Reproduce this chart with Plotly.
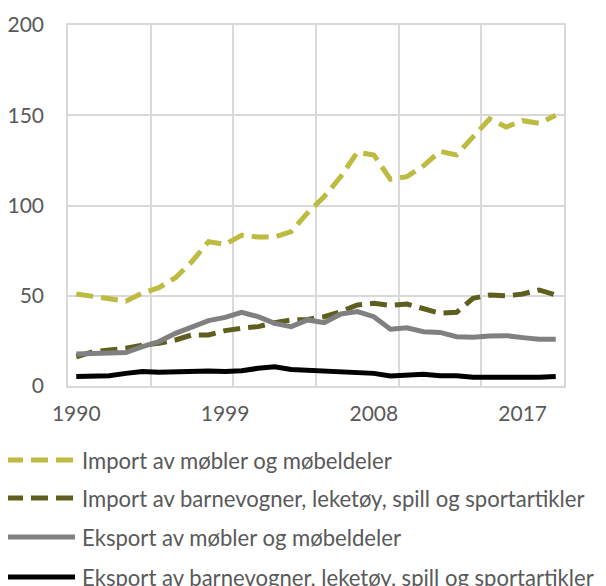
import plotly.graph_objects as go

years = [1990, 1991, 1992, 1993, 1994, 1995, 1996, 1997, 1998, 1999,
         2000, 2001, 2002, 2003, 2004, 2005, 2006, 2007, 2008, 2009,
         2010, 2011, 2012, 2013, 2014, 2015, 2016, 2017, 2018, 2019]

import_mobler = [51, 49.5, 48.5, 47, 51.5, 54.5, 60, 69, 80, 78.5,
                 83.5, 82.5, 82.5, 85.5, 96, 105, 116, 129.5, 128, 114.5,
                 116, 122, 130, 128, 138, 148, 143.5, 147, 145.5, 150]
import_barnevogner = [16.2, 19, 19.9, 20.9, 22.7, 23.6, 25.5, 28.3, 28.3, 30.7,
                      32, 32.9, 35.1, 36.6, 36.9, 38.4, 41.2, 44.9, 45.8, 44.6,
                      45.4, 42.5, 40.3, 40.8, 48.6, 50.4, 49.9, 51, 53.2, 50.4]
eksport_mobler = [17.7, 17.9, 18.3, 18.5, 21.8, 24.6, 29.2, 32.5, 36.2, 38,
                  40.8, 38.4, 34.7, 32.9, 36.6, 35.1, 39.9, 41.2, 38.4, 31.5,
                  32.3, 30.1, 29.7, 27.3, 27, 27.7, 27.9, 26.8, 25.9, 25.9]
eksport_barnevogner = [5.2, 5.5, 5.7, 7, 8, 7.6, 8, 7.8, 8.3, 8.1,
                       8.5, 9.8, 10.7, 9.2, 8.9, 7.9, 7.9, 7.9, 7, 5.5,
                       6.1, 6.5, 5.7, 5.7, 4.8, 4.8, 4.8, 4.2, 4.8, 5.2]

names = ["Import av møbler og møbeldeler",
         "Import av barnevogner, leketøy, spill og sportartikler",
         "Eksport av møbler og møbeldeler",
         "Eksport av barnevogner, leketøy, spill og sportartikler"]
series = [import_mobler, import_barnevogner, eksport_mobler, eksport_barnevogner]
colors = ["#BDBB40", "#5E5E1E", "#808080", "#000000"]
dashes = ["17px,8px", "17px,8px", "solid", "solid"]

x_ticks = [1990, 1999, 2008, 2017]

# the page body adds an 8px margin, so everything is placed 8px up/left
OFF = 8
W, H = 606, 586
L, T = 68 - OFF, 25 - OFF
R = W - (564 - OFF)
B = H - (386 - OFF)
FONT = "Lato"
TXT = "#595959"


def paper_x(px):
    return (px - OFF - L) / (W - L - R)


def paper_y(py):
    return (H - B - (py - OFF)) / (H - T - B)


fig = go.Figure()
for name, vals, col, dash in zip(names, series, colors, dashes):
    fig.add_trace(go.Scatter(
        x=years, y=vals, name=name, mode="lines",
        line=dict(color=col, width=5, dash=dash),
        hoverinfo="skip", showlegend=False
    ))

# legend drawn by hand so the line samples are as long as in the original
rows = [460, 498, 537, 577]
for name, col, dash, row in zip(names, colors, dashes, rows):
    fig.add_shape(type="line", xref="paper", yref="paper",
                  x0=paper_x(6), x1=paper_x(75), y0=paper_y(row), y1=paper_y(row),
                  line=dict(color=col, width=5, dash=dash))
    fig.add_annotation(text=name, xref="paper", yref="paper",
                       x=paper_x(80), y=paper_y(row), xanchor="left", yanchor="middle",
                       showarrow=False, font=dict(family=FONT, size=22.1, color=TXT))

fig.update_layout(
    width=W, height=H,
    margin=dict(l=L, r=R, t=T, b=B, autoexpand=False),
    plot_bgcolor="white", paper_bgcolor="white",
    showlegend=False,
    font=dict(family=FONT, size=21, color=TXT)
)
fig.update_xaxes(
    range=[1989.5, 2019.5], tickvals=x_ticks, showgrid=False, automargin=False,
    showline=True, mirror=True, linecolor="#D9D9D9", linewidth=1.5,
    ticks="", ticklabelstandoff=8, zeroline=False,
    minor=dict(tick0=1989.5, dtick=5, showgrid=True, gridcolor="#D9D9D9", gridwidth=1.5, ticks="")
)
fig.update_yaxes(
    range=[0, 200], dtick=50, showgrid=True, gridcolor="#D9D9D9", gridwidth=1.5,
    showline=True, mirror=True, linecolor="#D9D9D9", linewidth=1.5, automargin=False,
    ticks="", ticklabelstandoff=18, zeroline=False
)

fig.write_html("out.html")
